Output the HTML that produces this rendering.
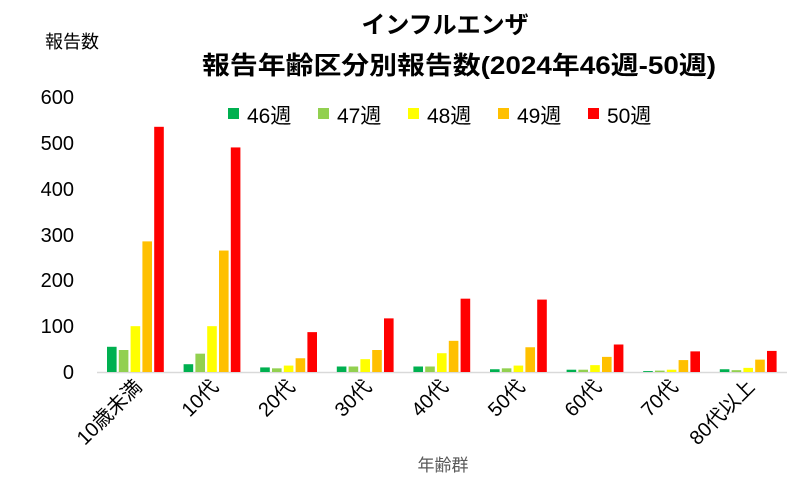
<!DOCTYPE html>
<html><head><meta charset="utf-8"><style>
html,body{margin:0;padding:0;background:#fff;}
svg{display:block;font-family:"Liberation Sans","Noto Sans CJK JP",sans-serif;}
</style></head><body>
<svg id="sv" width="794" height="495" viewBox="0 0 794 495" xmlns="http://www.w3.org/2000/svg">
<text x="445" y="33" text-anchor="middle" font-size="24" font-weight="bold" fill="#000">インフルエンザ</text>
<text x="202" y="74" font-size="25" font-weight="bold" fill="#000" textLength="514" lengthAdjust="spacingAndGlyphs">報告年齢区分別報告数(2024年46週-50週)</text>
<text x="72" y="48" text-anchor="middle" font-size="18" fill="#000">報告数</text>
<g font-size="20" fill="#000" text-anchor="end">
<text x="74" y="104">600</text>
<text x="74" y="150">500</text>
<text x="74" y="196">400</text>
<text x="74" y="242">300</text>
<text x="74" y="287">200</text>
<text x="74" y="333">100</text>
<text x="74" y="379">0</text>
</g>
<g font-size="21" fill="#000">
<rect x="228" y="108" width="11" height="11" fill="#00b050"/><text x="247" y="123">46週</text>
<rect x="318" y="108" width="11" height="11" fill="#92d050"/><text x="337" y="123">47週</text>
<rect x="408" y="108" width="11" height="11" fill="#ffff00"/><text x="427" y="123">48週</text>
<rect x="498" y="108" width="11" height="11" fill="#ffc000"/><text x="517" y="123">49週</text>
<rect x="588" y="108" width="11" height="11" fill="#ff0000"/><text x="607" y="123">50週</text>
</g>
<line x1="97" y1="372.5" x2="787" y2="372.5" stroke="#d9d9d9" stroke-width="1.5"/>
<g id="bars"></g>
<g font-size="20" fill="#000" text-anchor="end" id="xl"></g>
<text x="443" y="471" text-anchor="middle" font-size="17" fill="#595959">年齢群</text>
</svg>
<script>
var d=[[55,48,100,285,535],[17,40,100,265,490],[10,8,14,30,87],[12,12,28,48,117],[12,12,41,68,160],[6,8,14,54,158],[5,5,15,33,60],[2,3,5,26,45],[6,4,9,27,46]];
var c=["#00b050","#92d050","#ffff00","#ffc000","#ff0000"];
var names=["10歳未満","10代","20代","30代","40代","50代","60代","70代","80代以上"];
var ns="http://www.w3.org/2000/svg",g=document.getElementById("bars"),xl=document.getElementById("xl");
for(var i=0;i<9;i++){var cx=135+i*76.6;
for(var j=0;j<5;j++){var h=d[i][j]*0.4583;var r=document.createElementNS(ns,"rect");
r.setAttribute("x",cx-28+j*11.8);r.setAttribute("y",372-h);r.setAttribute("width",9.6);r.setAttribute("height",h);r.setAttribute("fill",c[j]);g.appendChild(r);}
var t=document.createElementNS(ns,"text");t.setAttribute("transform","translate("+(cx+8)+",388) rotate(-45)");t.textContent=names[i];xl.appendChild(t);}
</script>
</body></html>
